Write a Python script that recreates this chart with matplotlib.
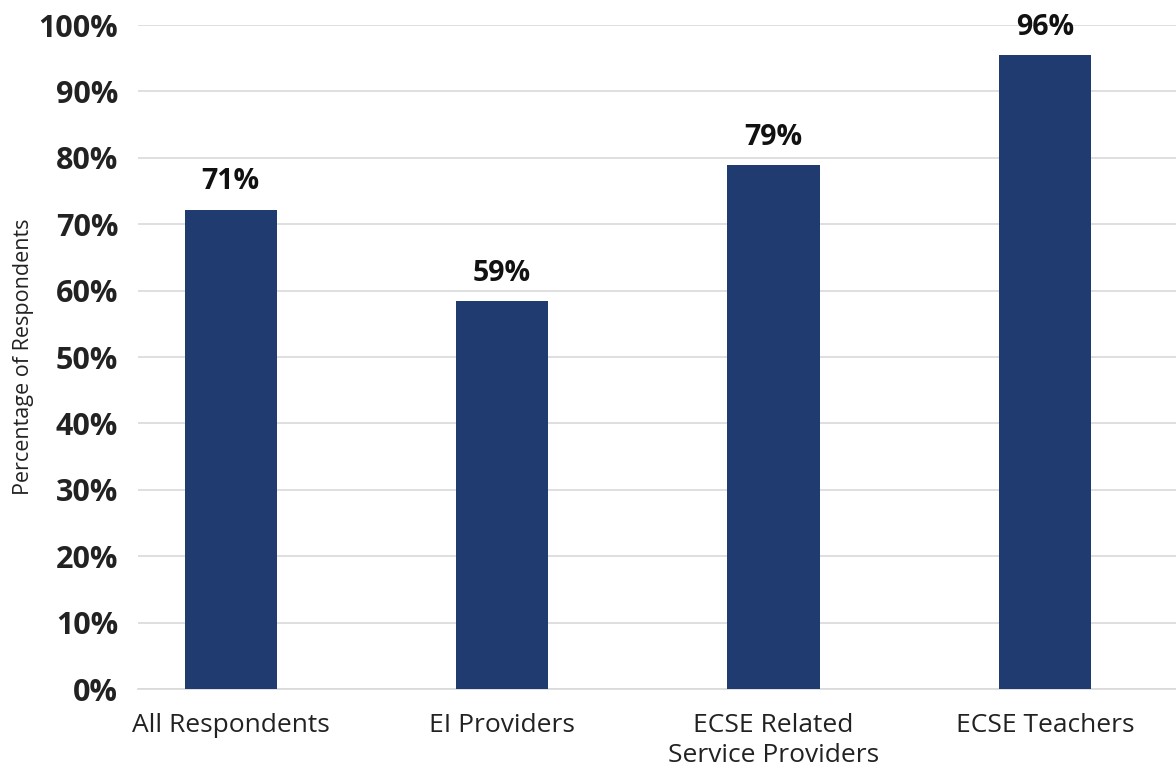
import matplotlib.pyplot as plt

plt.rcParams['font.family'] = ['Open Sans', 'DejaVu Sans']

categories = ["All Respondents", "EI Providers", "ECSE Related\nService Providers", "ECSE Teachers"]
values = [72.2, 58.4, 78.9, 95.5]
labels = ["71%", "59%", "79%", "96%"]
yticks = [0, 10, 20, 30, 40, 50, 60, 70, 80, 90, 100]

fig = plt.figure(figsize=(11.76, 7.70), dpi=100)
ax = fig.add_axes([0.117, 0.105, 0.883, 0.8625])

x = range(len(categories))
bars = ax.bar(x, values, width=0.34, color="#1f3b70", zorder=3)

for b, lab in zip(bars, labels):
    ax.text(b.get_x() + b.get_width() / 2, b.get_height() + 2.0, lab,
            ha="center", va="bottom", fontsize=20.5, fontweight="bold",
            color="#111111", clip_on=False)

ax.set_xlim(-0.343, 3.483)
ax.set_ylim(0, 100)
ax.set_yticks(yticks)
ax.set_yticklabels([f"{t}%" for t in yticks], fontsize=22, fontweight="bold", color="#222222")
ax.set_xticks(list(x))
ax.set_xticklabels(categories, fontsize=19, color="#222222", va="top", linespacing=1.3)
ax.tick_params(axis="both", length=0)
ax.tick_params(axis="x", pad=17)
ax.tick_params(axis="y", pad=14)

ax.grid(axis="y", color="#d9d9d9", linewidth=1.2, zorder=0)
for s in ["top", "right", "left"]:
    ax.spines[s].set_visible(False)
ax.spines["bottom"].set_color("#d9d9d9")
ax.spines["bottom"].set_linewidth(1.2)

ax.set_ylabel("Percentage of Respondents", fontsize=15.5, color="#222222", labelpad=12)
ax.yaxis.set_label_coords(-0.1, 0.5)

fig.savefig("out.png", dpi=100)
